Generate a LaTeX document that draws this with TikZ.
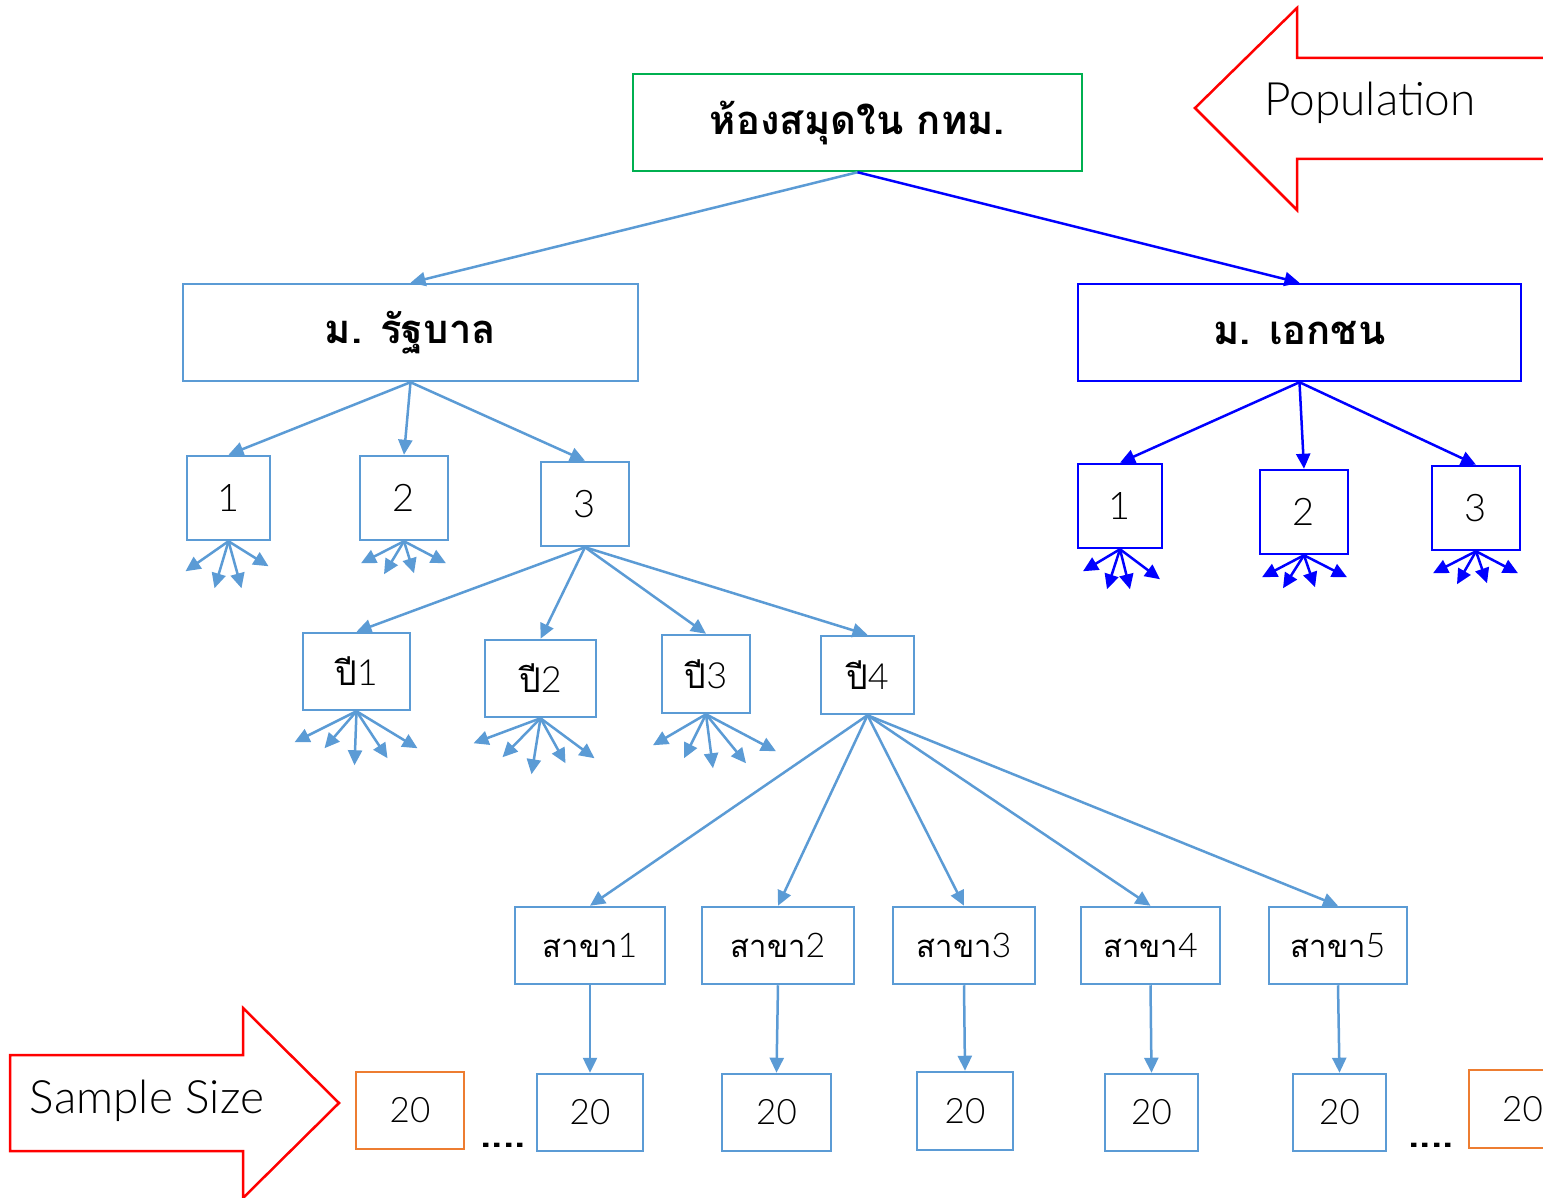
\documentclass[tikz,border=0pt]{standalone}
\usepackage{fontspec}
\usetikzlibrary{arrows.meta}
\newfontfamily\thai[Script=Thai]{Loma}
\newfontfamily\lat{Lato Light}
\definecolor{lblue}{HTML}{5B9BD5}
\definecolor{pblue}{HTML}{0000FF}
\definecolor{bgreen}{HTML}{00B050}
\definecolor{borange}{HTML}{ED7D31}
\definecolor{bred}{HTML}{FF0000}
\tikzset{
  box/.style={draw, line width=2.5pt, inner sep=0pt, align=center, text=black},
  lbox/.style={box, draw=lblue},
  pbox/.style={box, draw=pblue},
  obox/.style={box, draw=borange},
  arr/.style={line width=2.5pt, -{Triangle[length=15pt,width=14pt]}},
  larr/.style={arr, draw=lblue, fill=lblue},
  parr/.style={arr, draw=pblue, fill=pblue},
  big/.style={font=\thai\bfseries\fontsize{40}{44}\selectfont},
  mid/.style={font=\thai\fontsize{34}{38}\selectfont},
  num/.style={font=\lat\fontsize{38}{42}\selectfont},
  sml/.style={font=\thai\fontsize{31}{34}\selectfont},
  snum/.style={font=\lat\fontsize{35}{38}\selectfont},
  lbl/.style={font=\lat\fontsize{46}{50}\selectfont},
  dots/.style={font=\thai\bfseries\fontsize{40}{44}\selectfont},
  callout/.style={draw=bred, line width=2.5pt, fill=white},
}
\newcommand{\dg}[1]{{\lat\fontsize{36}{40}\selectfont #1}}
\newcommand{\sdg}[1]{{\lat\fontsize{34}{38}\selectfont #1}}
\begin{document}
\begin{tikzpicture}[x=1pt, y=-1pt]
\clip (0,0) rectangle (1543,1198);
\fill[white] (0,0) rectangle (1543,1198);

% red block arrows
\draw[callout] (1560,58) -- (1297,58) -- (1297,8) -- (1195,108) -- (1297,210) -- (1297,159) -- (1560,159);
\node[lbl] (poplbl) at (1370,103) {Population};
\draw[callout] (10,1055) -- (243,1055) -- (243,1008) -- (339,1103) -- (243,1198) -- (243,1151) -- (10,1151) -- cycle;
\node[lbl] (samplbl) at (147,1101) {Sample Size};

% root
\node[box, draw=bgreen, minimum width=449pt, minimum height=97pt, big] (root) at (857.5,122.5) {ห้องสมุดใน กทม.};

% universities
\node[lbox, minimum width=455pt, minimum height=97pt, big] (gov) at (410.5,332.5) {ม. รัฐบาล};
\node[pbox, minimum width=443pt, minimum height=97pt, big] (priv) at (1299.5,332.5) {ม. เอกชน};
\draw[larr] (root.south) -- (gov.north);
\draw[parr] (root.south) -- (priv.north);

% government groups
\node[lbox, minimum width=83pt, minimum height=84pt, num] (g1) at (228.5,498) {1};
\node[lbox, minimum width=88pt, minimum height=84pt, num] (g2) at (404,498) {2};
\node[lbox, minimum width=88pt, minimum height=84pt, num] (g3) at (585,504) {3};
\foreach \n in {g1,g2,g3} \draw[larr] (gov.south) -- (\n.north);
\foreach \dx/\dy in {-43/30,-14/47,13/47,40/25} \draw[larr] (g1.south) -- ++(\dx,\dy);
\foreach \dx/\dy in {-43/22,-20/33,10/32,42/22} \draw[larr] (g2.south) -- ++(\dx,\dy);

% private groups
\node[pbox, minimum width=84pt, minimum height=84pt, num] (p1) at (1120,506) {1};
\node[pbox, minimum width=88pt, minimum height=84pt, num] (p2) at (1304,512) {2};
\node[pbox, minimum width=88pt, minimum height=84pt, num] (p3) at (1476,508) {3};
\foreach \n in {p1,p2,p3} \draw[parr] (priv.south) -- (\n.north);
\foreach \dx/\dy in {-37/22,-13/40,10/40,40/30} \draw[parr] (p1.south) -- ++(\dx,\dy);
\foreach \dx/\dy in {-42/22,-21/33,11/32,43/22} \draw[parr] (p2.south) -- ++(\dx,\dy);
\foreach \dx/\dy in {-43/22,-19/33,11/32,42/22} \draw[parr] (p3.south) -- ++(\dx,\dy);

% years
\node[lbox, minimum width=107pt, minimum height=77pt, mid] (y1) at (356.5,671.5) {ปี\dg{1}};
\node[lbox, minimum width=111pt, minimum height=77pt, mid] (y2) at (540.5,678.5) {ปี\dg{2}};
\node[lbox, minimum width=88pt, minimum height=78pt, mid] (y3) at (706,674) {ปี\dg{3}};
\node[lbox, minimum width=93pt, minimum height=78pt, mid] (y4) at (867.5,675) {ปี\dg{4}};
\foreach \n in {y1,y2,y3,y4} \draw[larr] (g3.south) -- (\n.north);
\foreach \dx/\dy in {-62/31,-32/37,-2/54,31/47,61/37} \draw[larr] (y1.south) -- ++(\dx,\dy);
\foreach \dx/\dy in {-67/25,-38/39,-9/56,25/45,54/40} \draw[larr] (y2.south) -- ++(\dx,\dy);
\foreach \dx/\dy in {-53/31,-22/44,7/54,40/49,70/37} \draw[larr] (y3.south) -- ++(\dx,\dy);

% branches
\node[lbox, minimum width=150pt, minimum height=77pt, sml] (s1) at (590,945.5) {สาขา\sdg{1}};
\node[lbox, minimum width=152pt, minimum height=77pt, sml] (s2) at (778,945.5) {สาขา\sdg{2}};
\node[lbox, minimum width=142pt, minimum height=77pt, sml] (s3) at (964,945.5) {สาขา\sdg{3}};
\node[lbox, minimum width=139pt, minimum height=77pt, sml] (s4) at (1150.5,945.5) {สาขา\sdg{4}};
\node[lbox, minimum width=138pt, minimum height=77pt, sml] (s5) at (1338,945.5) {สาขา\sdg{5}};
\foreach \n in {s1,s2,s3,s4,s5} \draw[larr] (y4.south) -- (\n.north);

% sample sizes
\node[lbox, minimum width=106pt, minimum height=77pt, snum] (n1) at (590,1112.5) {20};
\node[lbox, minimum width=109pt, minimum height=77pt, snum] (n2) at (776.5,1112.5) {20};
\node[lbox, minimum width=96pt, minimum height=78pt, snum] (n3) at (965,1111) {20};
\node[lbox, minimum width=93pt, minimum height=77pt, snum] (n4) at (1151.5,1112.5) {20};
\node[lbox, minimum width=93pt, minimum height=77pt, snum] (n5) at (1339.5,1112.5) {20};
\foreach \i in {1,...,5} \draw[larr] (s\i.south) -- (n\i.north);

\node[obox, minimum width=108pt, minimum height=77pt, snum] (o1) at (410,1110.5) {20};
\node[obox, minimum width=107pt, minimum height=78pt, snum] (o2) at (1522.5,1109) {20};
\node[dots] (d1) at (503,1145) {....};
\node[dots] (d2) at (1431,1145) {....};
\end{tikzpicture}
\end{document}
